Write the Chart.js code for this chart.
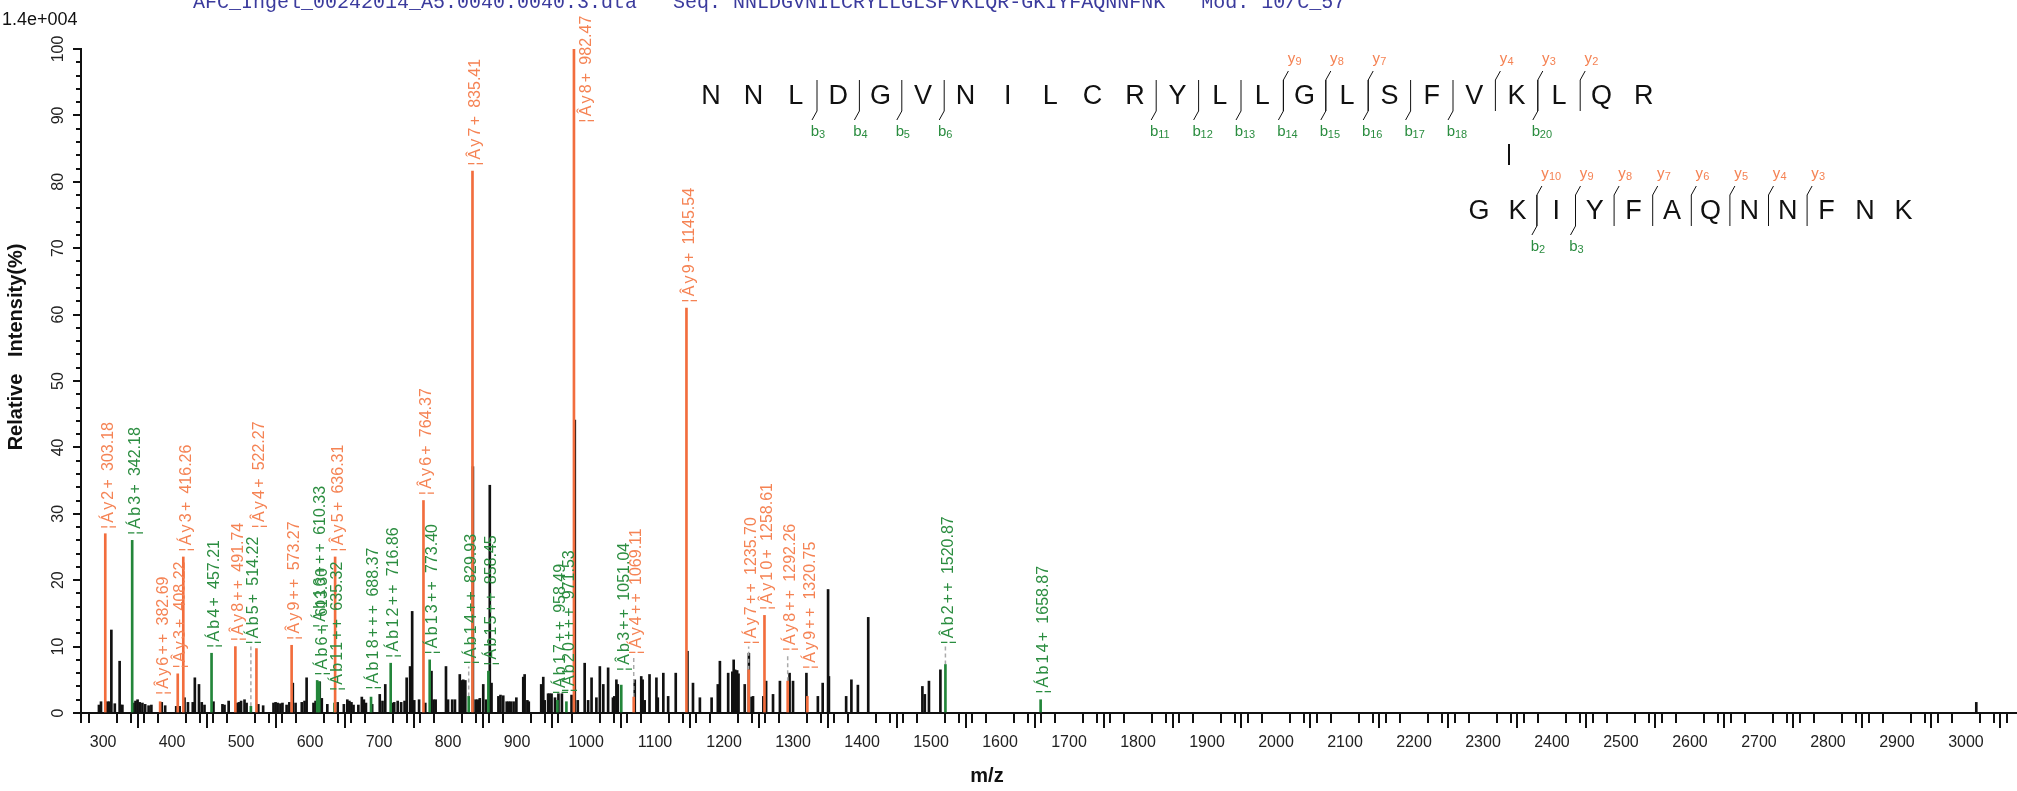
<!DOCTYPE html>
<html>
<head>
<meta charset="utf-8">
<script src="https://cdn.jsdelivr.net/npm/chart.js@4.4.0/dist/chart.umd.min.js"></script>
<style>
  html, body { margin: 0; padding: 0; background: #fff; overflow: hidden; }
</style>
</head>
<body>
<canvas id="spectrum" width="2017" height="791"></canvas>
<script>
// ---- values ----
const mzMin = 268;
const mzMax = 3074;
const mzTicks = [300, 400, 500, 600, 700, 800, 900, 1000, 1100, 1200, 1300, 1400, 1500, 1600, 1700,
  1800, 1900, 2000, 2100, 2200, 2300, 2400, 2500, 2600, 2700, 2800, 2900, 3000];
const intTicks = [0, 10, 20, 30, 40, 50, 60, 70, 80, 90, 100];

// unassigned peaks (black)
const peakMz = [294, 297, 306, 309, 312, 317, 324, 326, 328, 344, 347, 350, 353, 357, 361, 366, 370,
  385, 390, 406, 411, 418, 423, 430, 433, 439, 443, 447, 460, 473, 476, 482, 494, 497, 500, 505, 508,
  525, 532, 547, 550, 553, 557, 560, 566, 570, 575, 579, 588, 592, 595, 605, 608, 614, 617, 625,
  640, 649, 654, 657, 660, 663, 670, 675, 678, 681, 690, 701, 705, 709, 719, 722, 727, 732, 737,
  740, 745, 748, 751, 758, 767, 776, 779, 782, 797, 800, 806, 810, 817, 819, 822, 825, 836, 840,
  843, 846, 851, 855, 860.5, 863, 873, 876, 880, 885, 888, 891, 895, 899, 909, 911, 915, 917, 935,
  938, 940, 945, 947, 950, 955, 960, 965, 979, 983.7, 988, 998, 1003, 1008, 1015, 1020, 1025, 1032,
  1039, 1041, 1044, 1046, 1070.6, 1080, 1082, 1085, 1092, 1102, 1104, 1112, 1119, 1130, 1147, 1155,
  1165, 1182, 1191, 1194, 1206, 1212, 1214, 1216, 1219, 1221, 1230, 1236, 1240, 1242, 1257, 1261,
  1271, 1281, 1295, 1300, 1319.4, 1336, 1343, 1350.8, 1352, 1377, 1384.6, 1394, 1409, 1487.5, 1491,
  1497, 1513.6, 3015];
const peakInt = [1.2, 1.7, 1.7, 1.7, 12.5, 1.4, 7.8, 1.2, 1.2, 1.5, 1.8, 2, 1.6, 1.5, 1.3, 1.1, 1.2,
  1.6, 1.1, 1, 1, 2.3, 1.6, 1.6, 5.3, 4.3, 1.6, 1.2, 1.7, 1.3, 1.2, 1.8, 1.5, 1.6, 1.8, 2, 1.5,
  1.3, 1.1, 1.5, 1.6, 1.5, 1.4, 1.5, 1.2, 1.6, 4.5, 1.5, 1.6, 1.8, 5.3, 1.5, 1.8, 4.7, 2.2, 1.3,
  1.6, 1.3, 2, 1.8, 1.6, 1.2, 1.2, 2.4, 2, 1.5, 1.3, 2.8, 1.8, 4.3, 1.5, 1.6, 1.8, 1.6, 1.8,
  5.3, 7, 15.3, 1.9, 2, 1.5, 6.3, 2, 2, 7, 2, 2, 2, 5.8, 4.9, 5, 4.9, 37.1, 2,
  2, 2.2, 4.3, 2, 34.3, 4.5, 2.5, 2.7, 2.6, 1.7, 1.7, 1.7, 1.7, 2.3, 5.4, 5.8, 1.9, 1.7, 4.3,
  5.4, 1.9, 2.9, 2.9, 2.9, 2.3, 2.9, 2.9, 2.7, 44.1, 1.9, 7.5, 1.9, 5.3, 2.3, 7, 4.3, 6.8,
  2.3, 2.5, 5, 4.3, 5, 5.5, 5, 1.9, 5.8, 5.3, 2.3, 6, 2.5, 6, 9.3, 4.5,
  2.3, 2.3, 4.3, 7.8, 6, 6.2, 8, 6.5, 6.4, 5.9, 4.3, 9, 2.4, 2.5, 2.5, 4.8,
  2.8, 4.8, 6, 4.8, 6, 2.5, 4.5, 18.6, 5.5, 2.5, 5, 4.2, 14.4, 4, 2.8,
  4.8, 6.5, 1.6];

// matched y ions (orange)
const yIonMz = [303.18, 382.69, 408.22, 416.26, 491.74, 522.27, 573.27, 636.31, 764.37, 835.41,
  982.47, 1069.11, 1145.54, 1235.70, 1258.61, 1292.26, 1320.75];
const yIonInt = [27, 1.7, 5.9, 23.5, 10, 9.7, 10.2, 23.5, 32, 81.6, 100, 2.4, 61, 6.5, 14.7, 4.8, 2.5];
const yIonName = ['¦Áy2+', '¦Ây6++', '¦Ây3+', '¦Áy3+', '¦Ây8++', '¦Ây4+', '¦Ây9++', '¦Ây5+', '¦Ây6+',
  '¦Ây7+', '¦Ây8+', '¦Áy4++', '¦Ây9+', '¦Áy7++', '¦Ây10+', '¦Áy8++', '¦Áy9++'];

// matched b ions (green)
const bIonMz = [342.18, 457.21, 514.22, 610.33, 613.30, 635.32, 688.37, 716.86, 773.40, 829.93,
  858.45, 958.49, 971.53, 1051.04, 1520.87, 1658.87];
const bIonInt = [26, 9, 1, 4.9, 4.7, 1.5, 2.4, 7.5, 8, 2.5, 6.3, 1.9, 1.7, 4.2, 7.3, 2];
const bIonName = ['¦Áb3+', '¦Áb4+', '¦Áb5+', '¦Áb16+++', '¦Áb6+', '¦Áb11++', '¦Áb18+++', '¦Áb12++',
  '¦Áb13++', '¦Áb14++', '¦Áb15++', '¦Áb17++', '¦Áb20+++', '¦Âb3++', '¦Âb2++', '¦Áb14+'];

// where each peak label starts (intensity units) and which ones hang on a dashed leader
const yLabelAt = [27.4, 2.4, 6.4, 24, 10.5, 27.5, 10.7, 24, 32.5, 82.1, 88.6, 8.5, 61.5, 10, 15.2, 9, 6.3];
const yLabelDx = [0, 0, 0, 0, 0, 0, 0, 0, 0, 0, 10, 0, 0, 0, 0, 0, 0];
const yDashed = [false, false, false, false, false, false, false, false, false, false, false, true, false, true, false, true, false];
const bLabelAt = [26.5, 9.5, 10, 12.5, 5.3, 3, 3.2, 8, 8.5, 7, 6.8, 2.5, 2.8, 6, 10, 2.6];
const bDashed = [false, false, true, false, false, false, false, false, false, true, false, false, false, false, true, false];

// peptide fragment map
const seqAlpha = 'NNLDGVNILCRYLLGLSFVKLQR';
const seqBeta = 'GKIYFAQNNFNK';
const alphaB = [3, 4, 5, 6, 11, 12, 13, 14, 15, 16, 17, 18, 20];
const alphaY = [9, 8, 7, 4, 3, 2];
const betaB = [2, 3];
const betaY = [10, 9, 8, 7, 6, 5, 4, 3];

const headerText = 'AFC_Ingel_00242014_A5.0040.0040.3.dta   Seq: NNLDGVNILCRYLLGLSFVKLQR-GKIYFAQNNFNK   Mod: 10/C_57';

const ORANGE = '#f26d3d';
const ORANGE_TXT = '#f58354';
const GREEN = '#23863a';
const GREEN_TXT = '#2b8d40';
const SANS = '"Liberation Sans", Arial, sans-serif';

function pts(xs, ys) {
  return xs.map((x, i) => ({ x: x, y: ys[i] }));
}

// dashed leaders from peak top to its label
function leaders(xs, tops, at, flags) {
  const out = [];
  xs.forEach((x, i) => {
    if (!flags[i]) return;
    out.push({ x: x, y: tops[i] }, { x: x, y: at[i] }, { x: x, y: null });
  });
  return out;
}

function drawSequence(ctx, seq, x0, yc, step, bList, yList) {
  ctx.save();
  ctx.font = '27px ' + SANS;
  ctx.fillStyle = '#111';
  ctx.textAlign = 'center';
  ctx.textBaseline = 'middle';
  for (let i = 0; i < seq.length; i++) ctx.fillText(seq[i], x0 + i * step, yc + 1);

  ctx.strokeStyle = '#111';
  ctx.lineWidth = 1;
  bList.forEach(n => {
    const bx = x0 + (n - 0.5) * step;
    ctx.beginPath();
    ctx.moveTo(bx, yc - 16);
    ctx.lineTo(bx, yc + 15);
    ctx.lineTo(bx - 5, yc + 24);
    ctx.stroke();
    ctx.fillStyle = GREEN_TXT;
    ctx.font = '15px ' + SANS;
    ctx.fillText('b', bx - 2, yc + 36);
    ctx.font = '11px ' + SANS;
    ctx.textAlign = 'left';
    ctx.fillText(String(n), bx + 2, yc + 39);
    ctx.textAlign = 'center';
  });
  yList.forEach(n => {
    const bx = x0 + (seq.length - n - 0.5) * step;
    ctx.beginPath();
    ctx.moveTo(bx, yc + 15);
    ctx.lineTo(bx, yc - 16);
    ctx.lineTo(bx + 5, yc - 25);
    ctx.stroke();
    ctx.fillStyle = ORANGE_TXT;
    ctx.font = '15px ' + SANS;
    ctx.fillText('y', bx + 8, yc - 37);
    ctx.font = '11px ' + SANS;
    ctx.textAlign = 'left';
    ctx.fillText(String(n), bx + 12, yc - 34);
    ctx.textAlign = 'center';
  });
  ctx.restore();
}

const annotatePlugin = {
  id: 'annotate',
  afterDraw(chart) {
    const ctx = chart.ctx;
    const xs = chart.scales.x;
    const ys = chart.scales.y;
    const left = chart.chartArea.left;
    const bottom = chart.chartArea.bottom;

    // minor ticks
    ctx.save();
    ctx.strokeStyle = '#111';
    ctx.lineWidth = 2;
    ctx.beginPath();
    for (let v = 280; v < mzMax; v += 20) {
      if (v % 100 === 0) continue;
      const px = Math.round(xs.getPixelForValue(v));
      ctx.moveTo(px, bottom);
      ctx.lineTo(px, bottom + 10);
    }
    ctx.moveTo(left, bottom);
    ctx.lineTo(left, bottom + 10);
    for (let v = 2; v < 100; v += 2) {
      if (v % 10 === 0) continue;
      const py = Math.round(ys.getPixelForValue(v));
      ctx.moveTo(left, py);
      ctx.lineTo(left - 5, py);
    }
    ctx.stroke();
    ctx.restore();

    // peak labels (rotated); the ion name is set a little wider than the m/z value
    function label(mz, at, dx, name, color) {
      const px = xs.getPixelForValue(mz) + dx;
      const py = ys.getPixelForValue(at) - 2;
      ctx.save();
      ctx.translate(px + 3, py);
      ctx.rotate(-Math.PI / 2);
      ctx.font = '16px ' + SANS;
      ctx.fillStyle = color;
      ctx.textAlign = 'left';
      ctx.textBaseline = 'middle';
      ctx.letterSpacing = '2.2px';
      ctx.fillText(name, 0, 0);
      const w = ctx.measureText(name).width;
      ctx.letterSpacing = '0px';
      ctx.fillText(mz.toFixed(2), w + 6, 0);
      ctx.restore();
    }
    yIonMz.forEach((mz, i) => label(mz, yLabelAt[i], yLabelDx[i], yIonName[i], ORANGE_TXT));
    bIonMz.forEach((mz, i) => label(mz, bLabelAt[i], 0, bIonName[i], GREEN_TXT));

    // header, scale factor, axis titles
    ctx.save();
    ctx.fillStyle = '#3b3b9d';
    ctx.font = '20px "Liberation Mono", monospace';
    ctx.textBaseline = 'alphabetic';
    ctx.fillText(headerText, 193, 8);
    ctx.fillStyle = '#111';
    ctx.font = '18px ' + SANS;
    ctx.fillText('1.4e+004', 2, 25);
    ctx.font = 'bold 20px ' + SANS;
    ctx.textAlign = 'center';
    ctx.fillText('m/z', 987, 782);
    ctx.translate(22, 347);
    ctx.rotate(-Math.PI / 2);
    ctx.fillText('Relative   Intensity(%)', 0, 0);
    ctx.restore();

    drawSequence(ctx, seqAlpha, 711, 96, 42.4, alphaB, alphaY);
    drawSequence(ctx, seqBeta, 1479, 211, 38.6, betaB, betaY);

    // cross-link between the two lysines
    ctx.save();
    ctx.strokeStyle = '#111';
    ctx.lineWidth = 2;
    ctx.beginPath();
    ctx.moveTo(1509, 144);
    ctx.lineTo(1509, 165);
    ctx.stroke();
    ctx.restore();
  }
};

new Chart(document.getElementById('spectrum'), {
  type: 'bar',
  data: {
    datasets: [
      { label: 'y ions', data: pts(yIonMz, yIonInt), backgroundColor: ORANGE, barThickness: 2, order: 0 },
      { label: 'b ions', data: pts(bIonMz, bIonInt), backgroundColor: GREEN, barThickness: 2, order: 0 },
      {
        type: 'line', label: 'leaders',
        data: leaders(yIonMz, yIonInt, yLabelAt, yDashed).concat(leaders(bIonMz, bIonInt, bLabelAt, bDashed)),
        borderColor: '#aaaaaa', borderWidth: 1.5, borderDash: [4, 3], pointRadius: 0, spanGaps: false, order: 1
      },
      { label: 'peaks', data: pts(peakMz, peakInt), backgroundColor: '#111', barThickness: 2, order: 2 }
    ]
  },
  options: {
    responsive: false,
    animation: false,
    devicePixelRatio: 1,
    grouped: false,
    layout: { padding: { top: 49, left: 0, right: 0, bottom: 0 } },
    plugins: { legend: { display: false }, tooltip: { enabled: false } },
    scales: {
      x: {
        type: 'linear',
        min: mzMin,
        max: mzMax,
        offset: false,
        grid: { display: true, drawOnChartArea: false, drawTicks: true, tickLength: 15, color: '#111', lineWidth: 2 },
        border: { display: true, color: '#111', width: 2 },
        ticks: {
          maxRotation: 0,
          autoSkip: false,
          padding: 5,
          color: '#222',
          font: { family: SANS, size: 16 },
          callback: v => String(v)
        },
        afterBuildTicks: s => { s.ticks = mzTicks.map(v => ({ value: v })); },
        afterFit: s => { s.height = 78; }
      },
      y: {
        min: 0,
        max: 100,
        grid: { display: true, drawOnChartArea: false, drawTicks: true, tickLength: 8, color: '#111', lineWidth: 2 },
        border: { display: true, color: '#111', width: 2 },
        ticks: {
          minRotation: 90,
          maxRotation: 90,
          crossAlign: 'center',
          padding: 1,
          color: '#222',
          font: { family: SANS, size: 16 }
        },
        afterBuildTicks: s => { s.ticks = intTicks.map(v => ({ value: v })); },
        afterFit: s => { s.width = 81; }
      }
    }
  },
  plugins: [annotatePlugin]
});
</script>
</body>
</html>
